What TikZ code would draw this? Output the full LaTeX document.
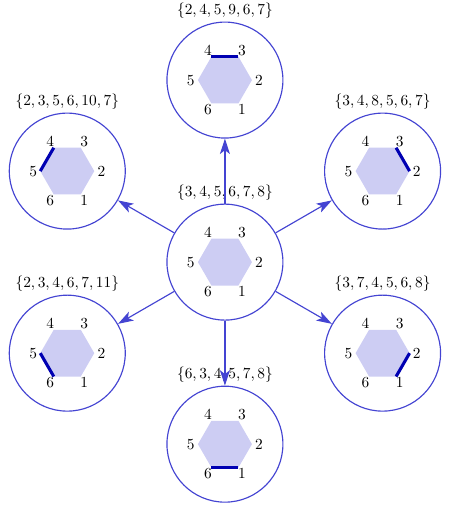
\documentclass[tikz,border=0pt]{standalone}
\usepackage{amsmath}
\usepackage{tikz}
\usetikzlibrary{positioning, arrows.meta, calc}

\definecolor{ringblue}{RGB}{68,68,210}
\definecolor{hexfill}{RGB}{205,205,243}
\definecolor{bondblue}{RGB}{0,0,178}

% hexagon with numbered corners inside cell #1
\newcommand{\hexcell}[1]{%
    \fill[hexfill] ($(#1)+(0:0.617)$) -- ($(#1)+(60:0.617)$) -- ($(#1)+(120:0.617)$)
        -- ($(#1)+(180:0.617)$) -- ($(#1)+(240:0.617)$) -- ($(#1)+(300:0.617)$) -- cycle;
    \foreach \k in {1,...,6}
        \node[vnum] (#1-\k) at ($(#1)+({(\k-2)*60}:0.78)$) {\k};
}

\begin{document}
\begin{tikzpicture}[
        >={Stealth[length=10pt,width=6.5pt,inset=2.5pt]},
        cell/.style={circle, draw=ringblue, line width=0.75pt, minimum size=2.65cm, inner sep=0pt},
        setlabel/.style={font=\normalsize, inner sep=2pt},
        vnum/.style={font=\normalsize, inner sep=0pt},
        arrow/.style={->, line width=0.75pt, draw=ringblue},
        bond/.style={line width=2pt, draw=bondblue},
    ]
    \useasboundingbox (-5.14,-5.71) rectangle (5.14,5.99);

    % === CENTRE CELL ===
    \node[cell, label={[setlabel]above:{$\{3,4,5,6,7,8\}$}}] (centre) at (0,0) {};
    \hexcell{centre}

    % === OUTER CELLS ===
    \foreach \ang/\nm/\set in {90/up/{2,4,5,9,6,7}, 30/upright/{3,4,8,5,6,7},
            -30/downright/{3,7,4,5,6,8}, -90/down/{6,3,4,5,7,8},
            210/downleft/{2,3,4,6,7,11}, 150/upleft/{2,3,5,6,10,7}} {
        \node[cell, label={[setlabel]above:{$\{\set\}$}}] (\nm) at (\ang:4.16) {};
        \hexcell{\nm}
        % highlighted side
        \draw[bond] ($(\nm)+(\ang+30:0.617)$) -- ($(\nm)+(\ang-30:0.617)$);
        \draw[arrow] (centre) -- (\nm);
    }
\end{tikzpicture}
\end{document}
